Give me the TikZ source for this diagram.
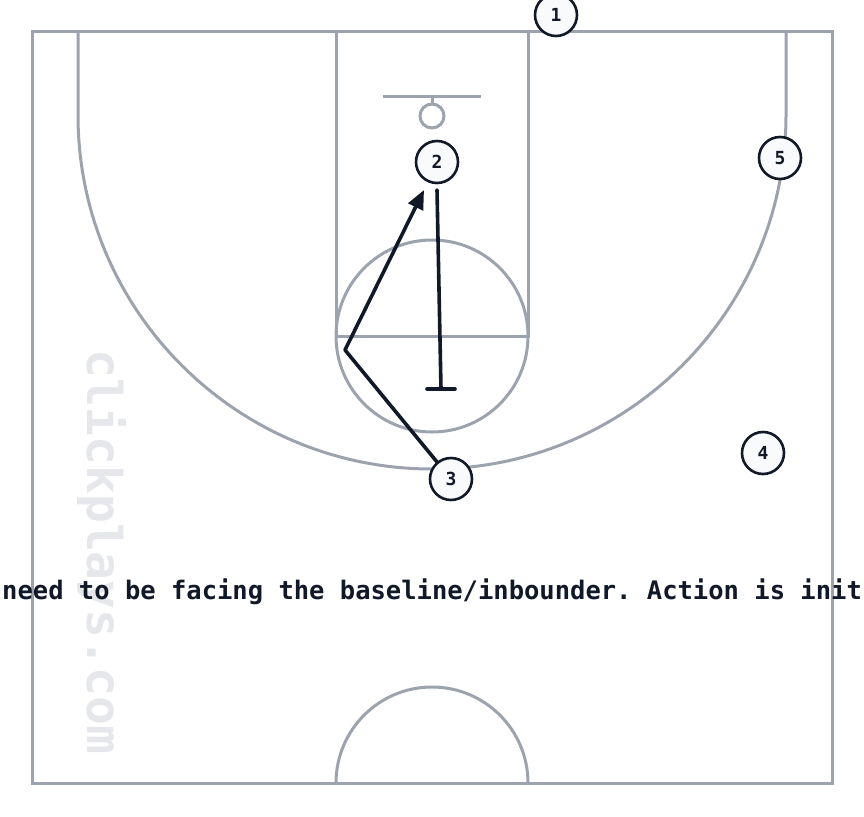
\documentclass[tikz,border=0pt]{standalone}
\usepackage{fontspec}
\setmonofont{DejaVu Sans Mono}
\usetikzlibrary{arrows.meta}
\definecolor{courtgray}{HTML}{9CA3AF}
\definecolor{ink}{HTML}{111827}
\definecolor{wmark}{HTML}{E5E7EB}
\definecolor{pfill}{HTML}{F8FAFC}
\tikzset{
  court/.style={draw=courtgray, line width=3pt},
  player/.style={circle, draw=ink, fill=pfill, line width=2.6pt, minimum size=42pt, inner sep=0pt,
    font=\ttfamily\bfseries\fontsize{18}{21}\selectfont, text=ink},
  action/.style={draw=ink, line width=3.6pt, line cap=round, line join=round},
}
\begin{document}
\begin{tikzpicture}[x=1pt,y=-1pt]
\useasboundingbox (0,0) rectangle (864,816);
% watermark
\node[rotate=-90, font=\ttfamily\bfseries\fontsize{48}{50}\selectfont, text=wmark, inner sep=0pt] (wm) at (102,552) {clickplays.com};
% court
\draw[court] (32,32) rectangle (832,783);
\draw[court] (336,32) rectangle (528,336);
\draw[court] (432,336) circle[radius=96];
\draw[court] (383,96) -- (481,96);
\draw[court] (432,96) -- (432,104);
\draw[court] (432,116) circle[radius=12];
\draw[court] (78,32) -- (78,115) arc[start angle=180, end angle=0, radius=354] -- (786,32);
\draw[court] (336,783) arc[start angle=180, end angle=360, radius=96];
% text
\node[anchor=west, inner sep=0pt, font=\ttfamily\bfseries\fontsize{25.5}{30}\selectfont, text=ink] (caption) at (2,592) {need to be facing the baseline/inbounder. Action is init};
% players
\node[player] (p1) at (556,15) {1};
\node[player] (p2) at (437,162) {2};
\node[player] (p3) at (451,479) {3};
\node[player] (p4) at (763,453) {4};
\node[player] (p5) at (780,158) {5};
% actions
\coordinate (bend) at (345,350);
\coordinate (cuttip) at (424,190);
\coordinate (scrstart) at (437,190);
\coordinate (scrend) at (441,389);
\coordinate (barL) at (427,389);
\coordinate (barR) at (455,389);
\draw[action, -{Triangle[length=19pt,width=16pt]}] (p3) -- (bend) -- (cuttip);
\draw[action] (scrstart) -- (scrend);
\draw[action] (barL) -- (barR);
\end{tikzpicture}
\end{document}
